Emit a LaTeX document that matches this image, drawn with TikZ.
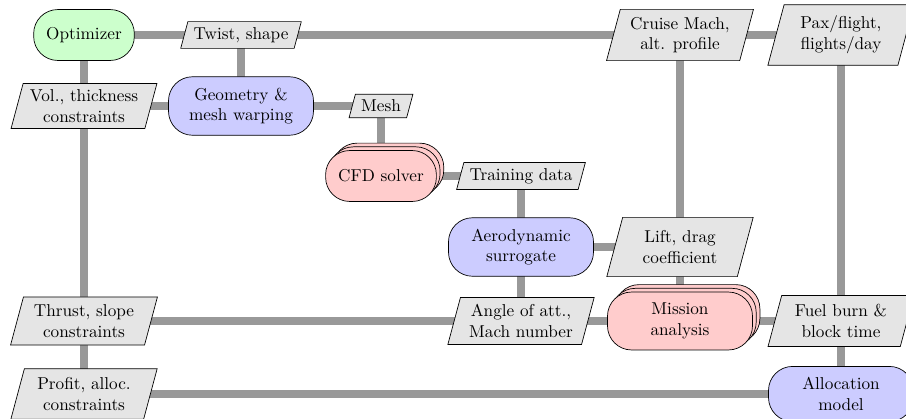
\documentclass[tikz,border=0pt]{standalone}
\usetikzlibrary{shapes.geometric,shadows,backgrounds}
\begin{document}
\tikzset{
  comp/.style={draw, rectangle, rounded corners=14pt, align=center, inner xsep=7.3pt, inner ysep=6.4pt, minimum height=29.6pt},
  wide/.style={minimum width=84.3pt},
  optbox/.style={comp, fill=green!20},
  funcbox/.style={comp, fill=blue!20},
  multibox/.style={comp, fill=red!20,
    copy shadow={shadow xshift=1ex, shadow yshift=1ex, fill=red!20, draw=black},
    copy shadow={shadow xshift=.5ex, shadow yshift=.5ex, fill=red!20, draw=black}},
  dataio/.style={draw, trapezium, trapezium left angle=75, trapezium right angle=105, fill=black!10, align=center},
  datatwo/.style={dataio, minimum width=85.5pt},
  conn/.style={line width=4.5pt, draw=black!40},
}
\begin{tikzpicture}[x=0.5814pt, y=-0.5814pt]
\useasboundingbox (0,0) rectangle (906,419);
% components
\node[optbox] (opt) at (84,35) {Optimizer};
\node[funcbox, wide] (geom) at (241,106) {Geometry \&\\ mesh warping};
\node[multibox] (cfd) at (381,176) {CFD solver};
\node[funcbox, wide] (aero) at (521,247) {Aerodynamic\\ surrogate};
\node[multibox, wide] (mission) at (680,321) {Mission\\ analysis};
\node[funcbox, wide] (alloc) at (841,394) {Allocation\\ model};
% data
\node[dataio] (twist) at (241,35) {Twist, shape};
\node[datatwo] (cruise) at (680,35) {Cruise Mach,\\ alt. profile};
\node[datatwo] (pax) at (841,35) {Pax/flight,\\ flights/day};
\node[datatwo] (vol) at (84,106) {Vol., thickness\\ constraints};
\node[dataio] (mesh) at (381,106) {Mesh};
\node[dataio] (train) at (521,176) {Training data};
\node[datatwo] (lift) at (680,247) {Lift, drag\\ coefficient};
\node[datatwo] (thrust) at (84,321) {Thrust, slope\\ constraints};
\node[datatwo] (angle) at (521,321) {Angle of att.,\\ Mach number};
\node[datatwo] (fuel) at (841,321) {Fuel burn \&\\ block time};
\node[datatwo] (profit) at (84,394) {Profit, alloc.\\ constraints};
% connections
\begin{pgfonlayer}{background}
\draw[conn] (opt.center) -- (pax.center);
\draw[conn] (twist.center) -- (geom.center);
\draw[conn] (cruise.center) -- (mission.center);
\draw[conn] (pax.center) -- (alloc.center);
\draw[conn] (opt.center) -- (profit.center);
\draw[conn] (vol.center) -- (mesh.center);
\draw[conn] (mesh.center) -- (cfd.center);
\draw[conn] (cfd.center) -- (train.center);
\draw[conn] (train.center) -- (angle.center);
\draw[conn] (aero.center) -- (lift.center);
\draw[conn] (thrust.center) -- (fuel.center);
\draw[conn] (profit.center) -- (alloc.center);
\end{pgfonlayer}
\end{tikzpicture}
\end{document}
